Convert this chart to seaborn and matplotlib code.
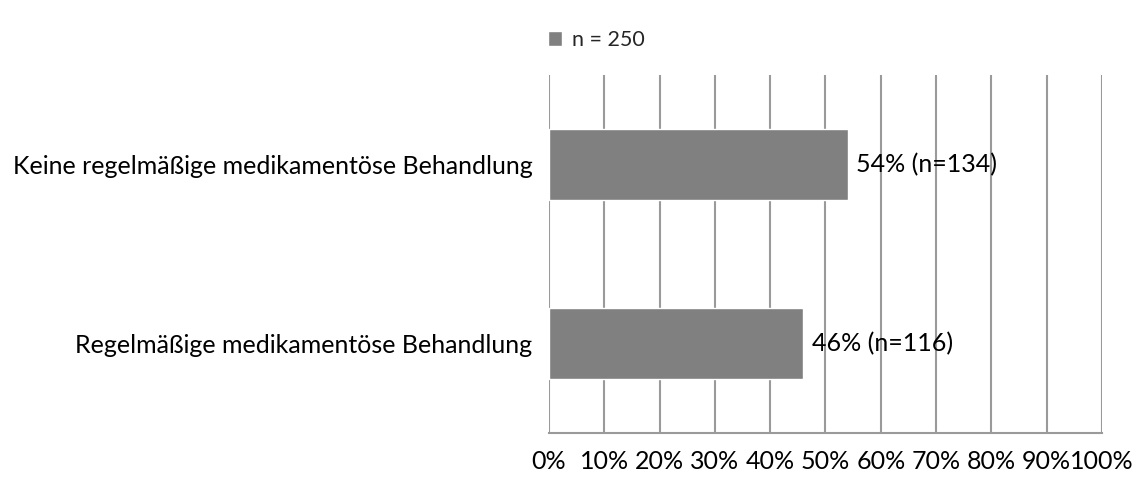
import matplotlib
matplotlib.use("Agg")
import matplotlib.pyplot as plt
import seaborn as sns
import pandas as pd

categories = ["Keine regelmäßige medikamentöse Behandlung",
              "Regelmäßige medikamentöse Behandlung"]
percent = [54, 46]
counts = [134, 116]
xticks = [0, 10, 20, 30, 40, 50, 60, 70, 80, 90, 100]
legend_label = "n = 250"

sns.set_theme(style="white")
plt.rcParams['font.family'] = ['Lato', 'DejaVu Sans']

df = pd.DataFrame({"Kategorie": categories, "Prozent": percent})

fig = plt.figure(figsize=(11.37, 4.79), dpi=100)
ax = fig.add_axes([0.4828, 0.096, 0.4864, 0.7474])

bar_color = "#808080"
grid_color = "#9a9a9a"
fs = 18

sns.barplot(data=df, y="Kategorie", x="Prozent", orient="h", color=bar_color,
            width=0.4, ax=ax, saturation=1, zorder=3, label=legend_label)

ax.set_xlim(0, 100)
ax.set_ylim(1.5, -0.5)
ax.set_xticks(xticks)
ax.set_xticklabels([f"{t}%" for t in xticks], fontsize=fs, color="#000000")
ax.tick_params(axis="x", length=0, pad=12)
ax.tick_params(axis="y", length=0, pad=12, labelsize=fs, labelcolor="#000000")
ax.set_xlabel("")
ax.set_ylabel("")

for t in xticks:
    ax.axvline(t, color=grid_color, lw=1.5, zorder=1)

for side in ["top", "right", "left"]:
    ax.spines[side].set_visible(False)
ax.spines["bottom"].set_color(grid_color)
ax.spines["bottom"].set_linewidth(1.5)

for i, (p, n) in enumerate(zip(percent, counts)):
    ax.text(p + 1.6, i, f"{p}% (n={n})", va="center", ha="left",
            fontsize=fs, color="#000000", zorder=4)

leg = ax.legend(loc="center", bbox_to_anchor=(0.086, 1.098), frameon=False,
                fontsize=15.5, handlelength=0.65, handleheight=0.75, handletextpad=0.45,
                borderaxespad=0, borderpad=0)

fig.savefig("out.png", dpi=100)
